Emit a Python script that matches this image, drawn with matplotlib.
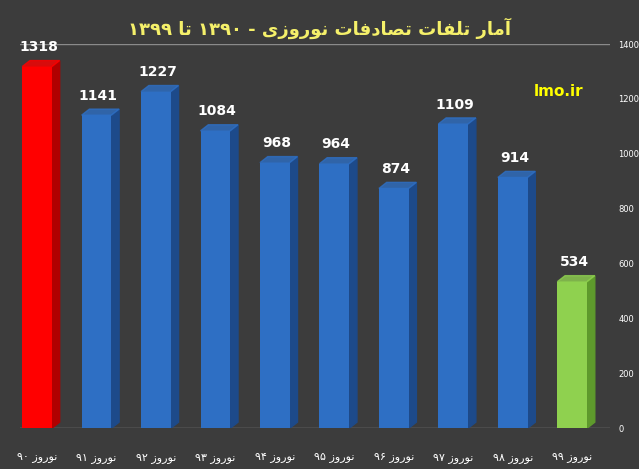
import matplotlib
matplotlib.use("Agg")
from matplotlib import pyplot as plt
from matplotlib.patches import Polygon

years = ["۹۰", "۹۱", "۹۲", "۹۳", "۹۴", "۹۵", "۹۶", "۹۷", "۹۸", "۹۹"]
deaths = [1318, 1141, 1227, 1084, 968, 964, 874, 1109, 914, 534]
colors = ["#ff0000"] + ["#2e6fc4"] * 8 + ["#8fd14f"]
sides = ["#b00000"] + ["#1d4a8a"] * 8 + ["#5e9a2c"]
title = "آمار تلفات تصادفات نوروزی - ۱۳۹۰ تا ۱۳۹۹"

# presentation forms: isolated, final, initial, medial
FORMS = {
    "آ": ("\uFE81", "\uFE82", None, None),
    "ا": ("\uFE8D", "\uFE8E", None, None),
    "ر": ("\uFEAD", "\uFEAE", None, None),
    "ز": ("\uFEAF", "\uFEB0", None, None),
    "د": ("\uFEA9", "\uFEAA", None, None),
    "و": ("\uFEED", "\uFEEE", None, None),
    "م": ("\uFEE1", "\uFEE2", "\uFEE3", "\uFEE4"),
    "ت": ("\uFE95", "\uFE96", "\uFE97", "\uFE98"),
    "ل": ("\uFEDD", "\uFEDE", "\uFEDF", "\uFEE0"),
    "ف": ("\uFED1", "\uFED2", "\uFED3", "\uFED4"),
    "ص": ("\uFEB9", "\uFEBA", "\uFEBB", "\uFEBC"),
    "ن": ("\uFEE5", "\uFEE6", "\uFEE7", "\uFEE8"),
    "ی": ("\uFBFC", "\uFBFD", "\uFBFE", "\uFBFF"),
}


def shape(text):
    out = []
    for i, ch in enumerate(text):
        if ch not in FORMS:
            out.append(ch)
            continue
        prev = text[i - 1] if i > 0 else ""
        nxt = text[i + 1] if i + 1 < len(text) else ""
        jp = prev in FORMS and FORMS[prev][2] is not None
        jn = nxt in FORMS and FORMS[ch][2] is not None
        f = FORMS[ch]
        if jp and jn:
            out.append(f[3])
        elif jp:
            out.append(f[1])
        elif jn:
            out.append(f[2])
        else:
            out.append(f[0])
    s = "".join(out)[::-1]
    # keep digit runs left-to-right
    res, run = "", ""
    for ch in s:
        if "\u06F0" <= ch <= "\u06F9":
            run += ch
        else:
            res += run[::-1] + ch
            run = ""
    return res + run[::-1]


plt.rcParams['font.family'] = ['DejaVu Sans', 'Noto Sans']
fig = plt.figure(figsize=(6.39, 4.69), dpi=100, facecolor="#3c3c3c")
ax = fig.add_axes([0.031, 0.087, 0.924, 0.819])
ax.set_facecolor("#3c3c3c")

w = 0.5
dx = 0.13
dy = 22
x = list(range(len(deaths)))
ax.bar(x, deaths, width=w, color=colors, zorder=3)
for xi, v, c, sc in zip(x, deaths, colors, sides):
    r = xi + w / 2
    l = xi - w / 2
    ax.add_patch(Polygon([(r, 0), (r + dx, dy), (r + dx, v + dy), (r, v)],
                         closed=True, color=sc, zorder=2))
    ax.add_patch(Polygon([(l, v), (l + dx, v + dy), (r + dx, v + dy), (r, v)],
                         closed=True, color=c, alpha=0.8, zorder=3))
    ax.text(xi + 0.03, v + 45, str(v), ha="center", va="bottom",
            color="white", fontsize=10, fontweight="bold", zorder=4)

ax.axhline(0, color="#8a8a8a", lw=1, zorder=1)
ax.axhline(1400, color="#8a8a8a", lw=1, zorder=1)
ax.set_xlim(-0.29, 9.64)
ax.set_ylim(0, 1400)
ax.set_xticks(x)
ax.set_xticklabels([shape("نوروز " + y) for y in years], color="white", fontsize=8)
ax.yaxis.tick_right()
ax.set_yticks(range(0, 1401, 200))
ax.set_yticklabels([str(t) for t in range(0, 1401, 200)], color="white", fontsize=6)
ax.tick_params(length=0, pad=18)
ax.tick_params(axis="y", pad=6)
for s in ax.spines.values():
    s.set_visible(False)

fig.text(0.5, 0.925, shape(title), ha="center", color="#f5f06a", fontsize=13,
         fontweight="bold")
fig.text(0.835, 0.795, "lmo.ir", ha="left", color="#ffff00", fontsize=11,
         fontweight="bold")

fig.savefig("out.png", dpi=100, facecolor=fig.get_facecolor())
